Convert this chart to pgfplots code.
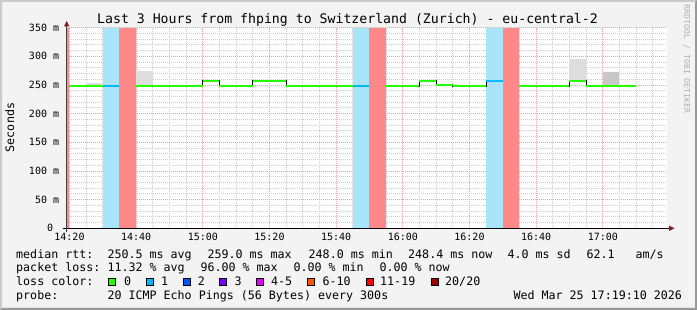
\documentclass[border=0pt]{standalone}
\usepackage{fontspec}
\setmainfont{DejaVu Sans Mono}
\usepackage{pgfplots}
\pgfplotsset{compat=1.18}
\definecolor{bg}{HTML}{F3F3F3}
\definecolor{shadeA}{HTML}{CBCBCB}
\definecolor{shadeB}{HTML}{999999}
\definecolor{gridminor}{HTML}{CFCFCF}
\definecolor{gridmajor}{HTML}{F0A0A0}
\definecolor{bandblue}{HTML}{A8E4FA}
\definecolor{bandred}{HTML}{FF8888}
\definecolor{lineblue}{HTML}{00B8FF}
\definecolor{linegreen}{HTML}{26FF00}
\definecolor{smokeA}{HTML}{DDDDDD}
\definecolor{smokeB}{HTML}{C8C8C8}
\definecolor{arrowc}{HTML}{8B1A1A}
\definecolor{lc0}{HTML}{26FF00}
\definecolor{lc1}{HTML}{00B8FF}
\definecolor{lc2}{HTML}{0059FF}
\definecolor{lc3}{HTML}{7E00FF}
\definecolor{lc4}{HTML}{E000FF}
\definecolor{lc6}{HTML}{FF5500}
\definecolor{lc11}{HTML}{FF0000}
\definecolor{lc20}{HTML}{A10000}
\definecolor{rrdtxt}{HTML}{B0B0B0}
\newcommand{\lf}{\fontsize{11.66}{14}\selectfont}
\newcommand{\tf}{\fontsize{10}{12}\selectfont}
\begin{document}
\begin{tikzpicture}[x=1pt,y=1pt]
\fill[bg] (0,0) rectangle (697,310);
\fill[shadeA] (0,0) -- (0,310) -- (697,310) -- (695,308) -- (2,308) -- (2,2) -- cycle;
\fill[shadeB] (697,310) -- (697,0) -- (0,0) -- (2,2) -- (695,2) -- (695,308) -- cycle;
\fill[white] (66.7,81.7) rectangle (666.7,282.4);
\begin{axis}[
  at={(66.7pt,81.7pt)}, anchor=south west,
  scale only axis, width=600pt, height=200.7pt,
  xmin=19.1667, xmax=199.1667, ymin=0, ymax=350,
  axis line style={draw=none},
  tick style={draw=none}, major tick length=0pt, minor tick length=0pt,
  xtick={20,40,...,180},
  xticklabels={14:20,14:40,15:00,15:20,15:40,16:00,16:20,16:40,17:00},
  minor xtick={25,30,35,45,50,55,65,70,75,85,90,95,105,110,115,125,130,135,145,150,155,165,170,175,185,190,195},
  ytick={0,50,...,350},
  yticklabels={0~~,50 m,100 m,150 m,200 m,250 m,300 m,350 m},
  minor ytick={10,20,30,40,60,70,80,90,110,120,130,140,160,170,180,190,210,220,230,240,260,270,280,290,310,320,330,340},
  grid=both,
  minor grid style={gridminor, line width=0.8pt, dash pattern=on 1pt off 1pt},
  major grid style={gridmajor, line width=0.8pt, dash pattern=on 1pt off 1pt},
  xticklabel style={font=\tf, anchor=base, inner sep=0pt, yshift=-12.7pt},
  yticklabel style={font=\tf, anchor=base east, inner sep=0pt, xshift=-7.4pt, yshift=-3.6pt},
]
% loss bands
\addplot[draw=none, fill=bandred] coordinates {(15,0)(15,350)(20,350)(20,0)} -- cycle;
\addplot[draw=none, fill=bandblue] coordinates {(30,0)(30,350)(35,350)(35,0)} -- cycle;
\addplot[draw=none, fill=bandred] coordinates {(35,0)(35,350)(40,350)(40,0)} -- cycle;
\addplot[draw=none, fill=bandblue] coordinates {(105,0)(105,350)(110,350)(110,0)} -- cycle;
\addplot[draw=none, fill=bandred] coordinates {(110,0)(110,350)(115,350)(115,0)} -- cycle;
\addplot[draw=none, fill=bandblue] coordinates {(145,0)(145,350)(150,350)(150,0)} -- cycle;
\addplot[draw=none, fill=bandred] coordinates {(150,0)(150,350)(155,350)(155,0)} -- cycle;
% smoke
\addplot[draw=none, fill=smokeA] coordinates {(25,248.2)(25,254)(30,254)(30,248.2)} -- cycle;
\addplot[draw=none, fill=smokeA] coordinates {(40,248.2)(40,275)(45,275)(45,248.2)} -- cycle;
\addplot[draw=none, fill=smokeA] coordinates {(170,257)(170,295)(175,295)(175,257)} -- cycle;
\addplot[draw=none, fill=smokeB] coordinates {(180,247.7)(180,272)(185,272)(185,247.7)} -- cycle;
% median step (black transitions)
\addplot[black, line width=1pt, const plot mark left] coordinates {(20,248.2)(30,248.4)(35,248.4)};
\addplot[black, line width=1pt, const plot mark left] coordinates {(40,248.2)(60,257.5)(65,248.2)(75,257.5)(85,248.7)(90,247.7)(105,248.7)(110,248.7)};
\addplot[black, line width=1pt, const plot mark left] coordinates {(115,247.3)(125,257.5)(130,249.3)(135,247.8)(145,257.5)(150,257.5)};
\addplot[black, line width=1pt, const plot mark left] coordinates {(155,247.7)(170,257)(175,249)(180,247.7)(190,247.7)};
% median coloured by loss
\addplot[linegreen, line width=2pt, jump mark left] coordinates {(20,248.2)(30,248.2)};
\addplot[linegreen, line width=2pt, jump mark left] coordinates {(40,248.2)(60,257.5)(65,248.2)(75,257.5)(85,248.7)(90,247.7)(105,247.7)};
\addplot[linegreen, line width=2pt, jump mark left] coordinates {(115,247.3)(125,257.5)(130,249.3)(135,247.8)(145,247.8)};
\addplot[linegreen, line width=2pt, jump mark left] coordinates {(155,247.7)(170,257)(175,249)(180,247.7)(190,247.7)};
\addplot[lineblue, line width=2pt, jump mark left] coordinates {(30,248.4)(35,248.4)};
\addplot[lineblue, line width=2pt, jump mark left] coordinates {(105,248.7)(110,248.7)};
\addplot[lineblue, line width=2pt, jump mark left] coordinates {(145,257.5)(150,257.5)};
\end{axis}
% axis lines and arrows
\draw[black, line width=1pt] (62.7,81.7) -- (669.5,81.7);
\fill[arrowc] (674.5,81.7) -- (669,84.4) -- (669,79.0) -- cycle;
\draw[black!75, line width=1pt] (66.7,77.7) -- (66.7,284.5);
\fill[arrowc] (66.7,289) -- (64,283.5) -- (69.4,283.5) -- cycle;
% title, y label, rrdtool tag
\node[font=\fontsize{13.2}{15}\selectfont, anchor=base, inner sep=0pt] at (347.5,286) {Last 3 Hours from fhping to Switzerland (Zurich) - eu-central-2};
\node[font=\lf, rotate=90, anchor=base, inner sep=0pt] at (14,182.5) {Seconds};
\node[font=\fontsize{8.2}{9}\selectfont, text=rrdtxt, rotate=-90, inner sep=0pt] at (686.7,250.8) {RRDTOOL / TOBI OETIKER};
% legend
\begin{scope}[every node/.style={font=\lf, anchor=base west, inner sep=0pt}]
\node at (16,51.7) {median rtt:};
\node at (107.3,51.7) {250.5 ms avg};
\node at (207.3,51.7) {259.0 ms max};
\node at (308.5,51.7) {248.0 ms min};
\node at (408,51.7) {248.4 ms now};
\node at (507.3,51.7) {4.0 ms sd};
\node at (586.3,51.7) {62.1};
\node at (635.4,51.7) {am/s};
\node at (16,38.7) {packet loss:};
\node at (107.3,38.7) {11.32 \% avg};
\node at (200.3,38.7) {96.00 \% max};
\node at (293.3,38.7) {0.00 \% min};
\node at (379.3,38.7) {0.00 \% now};
\node at (16,24.3) {loss color:};
\node at (124,24.3) {0};
\node at (161,24.3) {1};
\node at (197.7,24.3) {2};
\node at (234.3,24.3) {3};
\node at (271,24.3) {4-5};
\node at (322.3,24.3) {6-10};
\node at (380,24.3) {11-19};
\node at (445,24.3) {20/20};
\node at (16,10.7) {probe:};
\node at (107.3,10.7) {20 ICMP Echo Pings (56 Bytes) every 300s};
\node at (513.3,10.7) {Wed Mar 25 17:19:10 2026};
\end{scope}
\foreach \xx/\cc in {108.3/lc0,145.7/lc1,182.7/lc2,219.3/lc3,256/lc4,307.3/lc6,365.7/lc11,430.7/lc20}{
  \filldraw[fill=\cc, draw=black, line width=1pt] (\xx+0.5,24.8) rectangle (\xx+7.3,31.6);
}
\end{tikzpicture}
\end{document}
